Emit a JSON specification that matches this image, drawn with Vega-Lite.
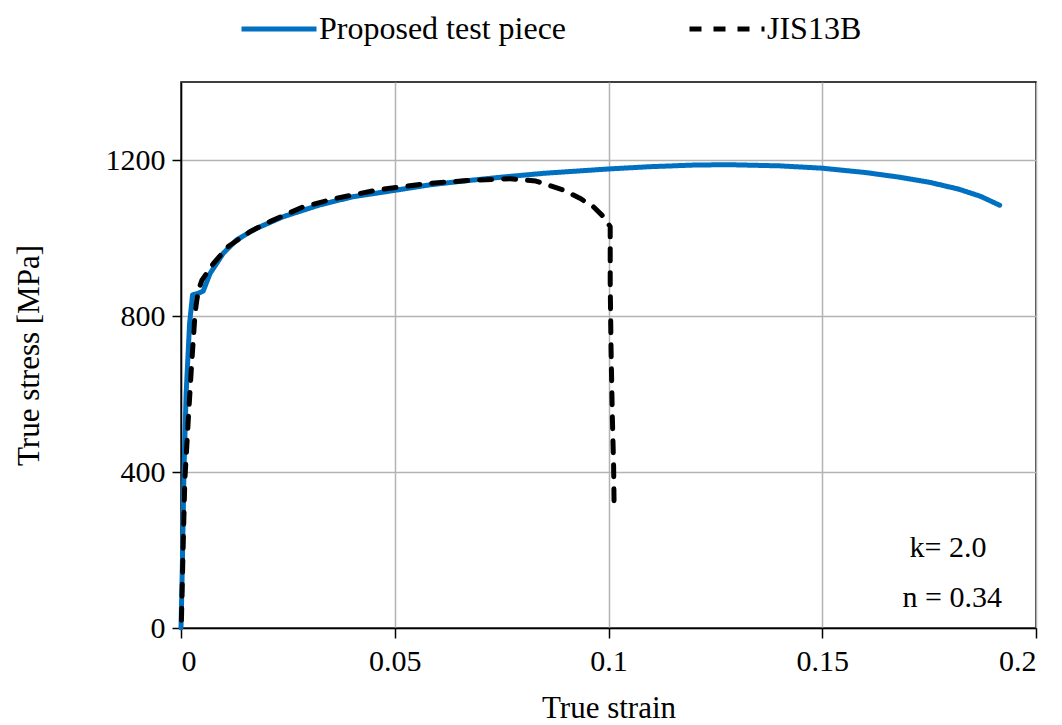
{
  "$schema": "https://vega.github.io/schema/vega-lite/v6.json",
  "width": 855,
  "height": 546,
  "autosize": "none",
  "padding": {"left": 181, "top": 82, "right": 26, "bottom": 97},
  "background": "white",
  "config": {
    "font": "Liberation Serif",
    "view": {"stroke": "black", "strokeWidth": 1.5},
    "axis": {
      "labelFont": "Liberation Serif",
      "titleFont": "Liberation Serif",
      "labelFontSize": 30,
      "titleFontSize": 31,
      "labelColor": "black",
      "titleColor": "black",
      "titleFontWeight": "normal",
      "domainColor": "black",
      "domainWidth": 1.5,
      "tickColor": "black",
      "tickWidth": 1.5,
      "gridColor": "#b3b3b3",
      "gridWidth": 1.5,
      "gridOpacity": 1
    },
    "text": {"font": "Liberation Serif"}
  },
  "datasets": {
    "curves": [
      {"series": "Proposed test piece", "i": 1, "strain": 0, "stress": 0},
      {"series": "Proposed test piece", "i": 2, "strain": 0.0003, "stress": 150},
      {"series": "Proposed test piece", "i": 3, "strain": 0.0007, "stress": 405},
      {"series": "Proposed test piece", "i": 4, "strain": 0.0012, "stress": 600},
      {"series": "Proposed test piece", "i": 5, "strain": 0.002, "stress": 780},
      {"series": "Proposed test piece", "i": 6, "strain": 0.0027, "stress": 854},
      {"series": "Proposed test piece", "i": 7, "strain": 0.004, "stress": 858},
      {"series": "Proposed test piece", "i": 8, "strain": 0.0052, "stress": 864},
      {"series": "Proposed test piece", "i": 9, "strain": 0.0068, "stress": 909},
      {"series": "Proposed test piece", "i": 10, "strain": 0.0099, "stress": 961},
      {"series": "Proposed test piece", "i": 11, "strain": 0.013, "stress": 995},
      {"series": "Proposed test piece", "i": 12, "strain": 0.0177, "stress": 1025},
      {"series": "Proposed test piece", "i": 13, "strain": 0.024, "stress": 1055},
      {"series": "Proposed test piece", "i": 14, "strain": 0.0325, "stress": 1085},
      {"series": "Proposed test piece", "i": 15, "strain": 0.0403, "stress": 1106},
      {"series": "Proposed test piece", "i": 16, "strain": 0.0505, "stress": 1123},
      {"series": "Proposed test piece", "i": 17, "strain": 0.058, "stress": 1136},
      {"series": "Proposed test piece", "i": 18, "strain": 0.066, "stress": 1146},
      {"series": "Proposed test piece", "i": 19, "strain": 0.075, "stress": 1156},
      {"series": "Proposed test piece", "i": 20, "strain": 0.085, "stress": 1166},
      {"series": "Proposed test piece", "i": 21, "strain": 0.1, "stress": 1177},
      {"series": "Proposed test piece", "i": 22, "strain": 0.11, "stress": 1183},
      {"series": "Proposed test piece", "i": 23, "strain": 0.12, "stress": 1187},
      {"series": "Proposed test piece", "i": 24, "strain": 0.128, "stress": 1188},
      {"series": "Proposed test piece", "i": 25, "strain": 0.14, "stress": 1185},
      {"series": "Proposed test piece", "i": 26, "strain": 0.15, "stress": 1179},
      {"series": "Proposed test piece", "i": 27, "strain": 0.16, "stress": 1168},
      {"series": "Proposed test piece", "i": 28, "strain": 0.168, "stress": 1156},
      {"series": "Proposed test piece", "i": 29, "strain": 0.175, "stress": 1143},
      {"series": "Proposed test piece", "i": 30, "strain": 0.182, "stress": 1125},
      {"series": "Proposed test piece", "i": 31, "strain": 0.187, "stress": 1107},
      {"series": "Proposed test piece", "i": 32, "strain": 0.1915, "stress": 1084},
      {"series": "JIS13B", "i": 1, "strain": 0.0001, "stress": 20},
      {"series": "JIS13B", "i": 2, "strain": 0.0005, "stress": 208},
      {"series": "JIS13B", "i": 3, "strain": 0.0009, "stress": 380},
      {"series": "JIS13B", "i": 4, "strain": 0.0017, "stress": 533},
      {"series": "JIS13B", "i": 5, "strain": 0.0025, "stress": 679},
      {"series": "JIS13B", "i": 6, "strain": 0.0033, "stress": 808},
      {"series": "JIS13B", "i": 7, "strain": 0.0037, "stress": 841},
      {"series": "JIS13B", "i": 8, "strain": 0.0041, "stress": 867},
      {"series": "JIS13B", "i": 9, "strain": 0.0049, "stress": 892},
      {"series": "JIS13B", "i": 10, "strain": 0.0076, "stress": 935},
      {"series": "JIS13B", "i": 11, "strain": 0.011, "stress": 978},
      {"series": "JIS13B", "i": 12, "strain": 0.0161, "stress": 1016},
      {"series": "JIS13B", "i": 13, "strain": 0.0208, "stress": 1042},
      {"series": "JIS13B", "i": 14, "strain": 0.0286, "stress": 1080},
      {"series": "JIS13B", "i": 15, "strain": 0.0364, "stress": 1102},
      {"series": "JIS13B", "i": 16, "strain": 0.0458, "stress": 1123},
      {"series": "JIS13B", "i": 17, "strain": 0.058, "stress": 1140},
      {"series": "JIS13B", "i": 18, "strain": 0.068, "stress": 1148},
      {"series": "JIS13B", "i": 19, "strain": 0.077, "stress": 1152},
      {"series": "JIS13B", "i": 20, "strain": 0.083, "stress": 1146},
      {"series": "JIS13B", "i": 21, "strain": 0.0894, "stress": 1123},
      {"series": "JIS13B", "i": 22, "strain": 0.0933, "stress": 1102},
      {"series": "JIS13B", "i": 23, "strain": 0.0965, "stress": 1080},
      {"series": "JIS13B", "i": 24, "strain": 0.0988, "stress": 1055},
      {"series": "JIS13B", "i": 25, "strain": 0.1004, "stress": 1029},
      {"series": "JIS13B", "i": 26, "strain": 0.1004, "stress": 884},
      {"series": "JIS13B", "i": 27, "strain": 0.1006, "stress": 713},
      {"series": "JIS13B", "i": 28, "strain": 0.1009, "stress": 542},
      {"series": "JIS13B", "i": 29, "strain": 0.1012, "stress": 413},
      {"series": "JIS13B", "i": 30, "strain": 0.1013, "stress": 320}
    ],
    "notes": [
      {"label": "k= 2.0", "strain": 0.1794, "stress": 205},
      {"label": "n = 0.34", "strain": 0.1804, "stress": 77}
    ]
  },
  "layer": [
    {
      "data": {"name": "curves"},
      "transform": [{"filter": "datum.series === 'Proposed test piece'"}],
      "mark": {"type": "line", "strokeWidth": 5, "strokeCap": "round", "strokeJoin": "round"},
      "encoding": {
        "x": {
          "field": "strain", "type": "quantitative",
          "scale": {"domain": [0, 0.2], "nice": false},
          "axis": {"title": "True strain", "values": [0, 0.05, 0.1, 0.15, 0.2], "format": "~g", "tickSize": 10, "labelPadding": 8, "titlePadding": 17}
        },
        "y": {
          "field": "stress", "type": "quantitative",
          "scale": {"domain": [0, 1400], "nice": false},
          "axis": {"title": "True stress [MPa]", "values": [0, 400, 800, 1200], "format": "d", "tickSize": 9, "labelPadding": 7, "titlePadding": 60}
        },
        "order": {"field": "i"},
        "color": {
          "field": "series", "type": "nominal",
          "scale": {"domain": ["Proposed test piece", "JIS13B"], "range": ["#0070C0", "#000000"]},
          "legend": {
            "title": null, "orient": "none", "direction": "horizontal",
            "legendX": 58, "legendY": -93,
            "symbolType": "stroke", "symbolSize": 5625, "symbolStrokeWidth": 5,
            "labelFont": "Liberation Serif", "labelFontSize": 32, "labelColor": "black",
            "labelOffset": 0, "labelLimit": 500, "columnPadding": 112
          }
        },
        "strokeDash": {
          "field": "series", "type": "nominal",
          "scale": {"domain": ["Proposed test piece", "JIS13B"], "range": [[1, 0], [12, 12]]},
          "legend": null
        }
      }
    },
    {
      "data": {"name": "curves"},
      "transform": [{"filter": "datum.series === 'JIS13B'"}],
      "mark": {"type": "line", "strokeWidth": 5, "strokeCap": "round", "strokeJoin": "round"},
      "encoding": {
        "x": {"field": "strain", "type": "quantitative"},
        "y": {"field": "stress", "type": "quantitative"},
        "order": {"field": "i"},
        "color": {"field": "series", "type": "nominal"},
        "strokeDash": {"field": "series", "type": "nominal"}
      }
    },
    {
      "data": {"name": "notes"},
      "mark": {"type": "text", "fontSize": 30, "color": "black", "align": "center", "baseline": "middle"},
      "encoding": {
        "x": {"field": "strain", "type": "quantitative"},
        "y": {"field": "stress", "type": "quantitative"},
        "text": {"field": "label"}
      }
    }
  ]
}
